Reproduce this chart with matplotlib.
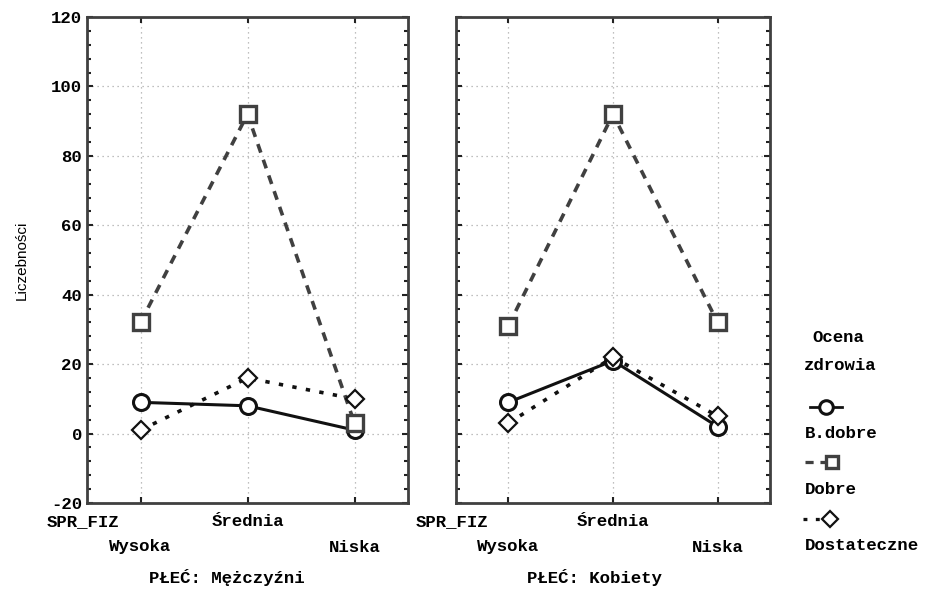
import matplotlib
matplotlib.use("Agg")
import matplotlib.pyplot as plt
from matplotlib.lines import Line2D
from matplotlib.ticker import MultipleLocator

categories = ["Wysoka", "Średnia", "Niska"]
panels = ["PŁEĆ: Mężczyźni", "PŁEĆ: Kobiety"]
series_names = ["B.dobre", "Dobre", "Dostateczne"]
men_bdobre = [9, 8, 1]
men_dobre = [32, 92, 3]
men_dost = [1, 16, 10]
women_bdobre = [9, 21, 2]
women_dobre = [31, 92, 32]
women_dost = [3, 22, 5]
y_ticks = [-20, 0, 20, 40, 60, 80, 100, 120]

data = [[men_bdobre, men_dobre, men_dost], [women_bdobre, women_dobre, women_dost]]

MONO = ["Liberation Mono", "DejaVu Sans Mono"]
SANS = ["Liberation Sans", "DejaVu Sans"]
FS = 12.5

styles = [
    dict(color="#111111", ls="-", lw=2.2, marker="o", ms=11.5, mfc="white", mec="#111111", mew=2.2),
    dict(color="#404040", ls=(0, (2.5, 2.1)), lw=2.6, marker="s", ms=11, mfc="white", mec="#404040", mew=2.4),
    dict(color="#111111", ls=(0, (1.2, 2.6)), lw=2.6, marker="D", ms=9, mfc="white", mec="#111111", mew=1.6),
]

fig = plt.figure(figsize=(9.43, 5.90), dpi=100)
W, H = 943, 590
boxes = [(87, 408), (456, 770)]
top, bottom = 17, 503

x = list(range(len(categories)))
for pi, (x0, x1) in enumerate(boxes):
    ax = fig.add_axes([x0 / W, 1 - bottom / H, (x1 - x0) / W, (bottom - top) / H])
    for si in range(3):
        st = styles[si]
        ax.plot(x, data[pi][si], linestyle=st["ls"], color=st["color"], lw=st["lw"],
                marker=st["marker"], markersize=st["ms"], markerfacecolor=st["mfc"],
                markeredgecolor=st["mec"], markeredgewidth=st["mew"], zorder=3 + si)
    ax.set_xlim(-0.5, 2.5)
    ax.set_ylim(-20, 120)
    ax.set_yticks(y_ticks)
    ax.yaxis.set_minor_locator(MultipleLocator(4))
    ax.set_xticks(x)
    ax.set_xticklabels([])
    ax.grid(True, which="major", linestyle=(0, (1, 3)), color="#aaaaaa", lw=0.9)
    ax.tick_params(axis="both", which="both", direction="in", left=True, right=True,
                   top=True, bottom=True, color="#222222")
    ax.tick_params(axis="both", which="major", length=4, width=1.5)
    ax.tick_params(axis="y", which="minor", length=3, width=1.5)
    for sp in ax.spines.values():
        sp.set_color("#404040")
        sp.set_linewidth(2)
    if pi == 0:
        ax.set_yticklabels([str(v) for v in y_ticks], family=MONO, fontweight="bold", fontsize=FS)
        ax.set_ylabel("Liczebności", family=SANS, fontsize=11, labelpad=16)
    else:
        ax.set_yticklabels([])
    # staggered category labels
    trans = ax.get_xaxis_transform()
    ah = bottom - top
    ax.text((x0 - 40 - x0) / (x1 - x0), (bottom - 522) / ah, "SPR_FIZ", transform=ax.transAxes,
            ha="left", va="center", family=MONO, fontweight="bold", fontsize=FS)
    for ci, cat in enumerate(categories):
        ypx = 522 if ci == 1 else 547
        ax.text(ci, (bottom - ypx) / ah, cat, transform=trans, ha="center", va="center",
                family=MONO, fontweight="bold", fontsize=FS)
    cx = [227, 594][pi]
    fig.text(cx / W, 1 - 578 / H, panels[pi], ha="center", va="center",
             family=MONO, fontweight="bold", fontsize=FS)

# legend
fig.text(812 / W, 1 - 337 / H, "Ocena", ha="left", va="center", family=MONO, fontweight="bold", fontsize=FS)
fig.text(804 / W, 1 - 366 / H, "zdrowia", ha="left", va="center", family=MONO, fontweight="bold", fontsize=FS)
leg_y = [407, 462, 519]
lab_y = [433, 490, 545]
seg = [(810, 842), (805, 826), (803, 840)]
mk_x = [826, 832, 830]
for si in range(3):
    st = styles[si]
    yy = 1 - leg_y[si] / H
    fig.add_artist(Line2D([seg[si][0] / W, seg[si][1] / W], [yy, yy], transform=fig.transFigure,
                          linestyle=st["ls"], color=st["color"], lw=st["lw"] * 0.9))
    fig.add_artist(Line2D([mk_x[si] / W], [yy], transform=fig.transFigure, linestyle="none",
                          marker=st["marker"], markersize=st["ms"] * 0.85, markerfacecolor="white",
                          markeredgecolor=st["mec"], markeredgewidth=st["mew"]))
    fig.text(805 / W, 1 - lab_y[si] / H, series_names[si], ha="left", va="center",
             family=MONO, fontweight="bold", fontsize=FS)

fig.savefig("out.png", dpi=100, facecolor="white")
